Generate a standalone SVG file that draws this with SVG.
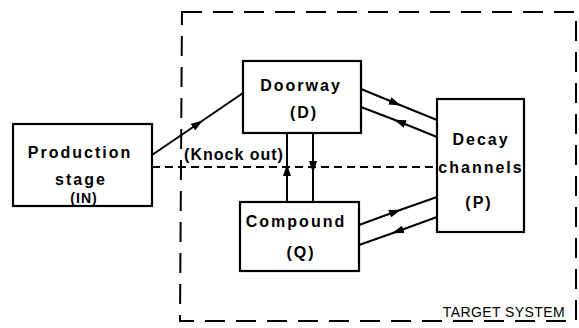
<svg xmlns="http://www.w3.org/2000/svg" width="579" height="328" viewBox="0 0 579 328">
<defs>
<style>
.box{fill:#fff;stroke:#000;stroke-width:2.2}
.ln{fill:none;stroke:#000;stroke-width:2}
.dash{fill:none;stroke:#000;stroke-width:2;stroke-dasharray:8 5}
.border{fill:none;stroke:#000;stroke-width:2;stroke-dasharray:20 11}
.t{font-family:"Liberation Sans",Arial,sans-serif;font-weight:bold;font-size:16px;letter-spacing:2px;text-anchor:middle;fill:#000}
.s{font-family:"Liberation Sans",Arial,sans-serif;font-weight:bold;font-size:14px;letter-spacing:1px;text-anchor:middle;fill:#000}
.k{font-family:"Liberation Sans",Arial,sans-serif;font-size:16px;font-weight:bold;letter-spacing:1px;text-anchor:middle;fill:#000}
.ts{font-family:"Liberation Sans",Arial,sans-serif;font-size:14px;fill:#000}
</style>
<marker id="ar" viewBox="0 0 12 8" refX="11" refY="4" markerWidth="12" markerHeight="8" markerUnits="userSpaceOnUse" orient="auto">
<path d="M0,0 L12,4 L0,8 Z" fill="#000"/>
</marker>
</defs>
<rect width="579" height="328" fill="#fff"/>
<g id="target-system">
<path class="border" d="M182,12 L576,12 L576,321 L180,321 Z"/>
<text class="ts" x="565" y="317" text-anchor="end" letter-spacing="0.4">TARGET SYSTEM</text>
</g>
<g id="connectors">
<path class="ln" d="M152,155 L202,121 L243,93" marker-mid="url(#ar)"/>
<path class="ln" d="M361,89 L400,105 L437,120" marker-mid="url(#ar)"/>
<path class="ln" d="M437,137 L395,120 L361,107" marker-mid="url(#ar)"/>
<path class="ln" d="M359,225 L400,210 L437,197" marker-mid="url(#ar)"/>
<path class="ln" d="M437,217 L393,233 L359,245" marker-mid="url(#ar)"/>
<path class="ln" d="M287,202 L287,165 L287,133" marker-mid="url(#ar)"/>
<path class="ln" d="M313,133 L313,172 L313,202" marker-mid="url(#ar)"/>
<path class="dash" d="M152,167 L437,167"/>
<text class="k" x="234" y="160">(Knock out)</text>
</g>
<g id="production">
<rect class="box" x="13" y="124" width="139" height="82"/>
<text class="t" x="80" y="158">Production</text>
<text class="t" x="81" y="185">stage</text>
<text class="s" x="84" y="203">(IN)</text>
</g>
<g id="doorway">
<rect class="box" x="243" y="61" width="118" height="72"/>
<text class="t" x="301" y="91">Doorway</text>
<text class="t" x="304" y="118">(D)</text>
</g>
<g id="compound">
<rect class="box" x="240" y="202" width="119" height="69"/>
<text class="t" x="296" y="227">Compound</text>
<text class="t" x="301" y="258">(Q)</text>
</g>
<g id="decay">
<rect class="box" x="437" y="99" width="87" height="133"/>
<text class="t" x="481" y="145">Decay</text>
<text class="t" x="481" y="173">channels</text>
<text class="t" x="479" y="208">(P)</text>
</g>
</svg>
